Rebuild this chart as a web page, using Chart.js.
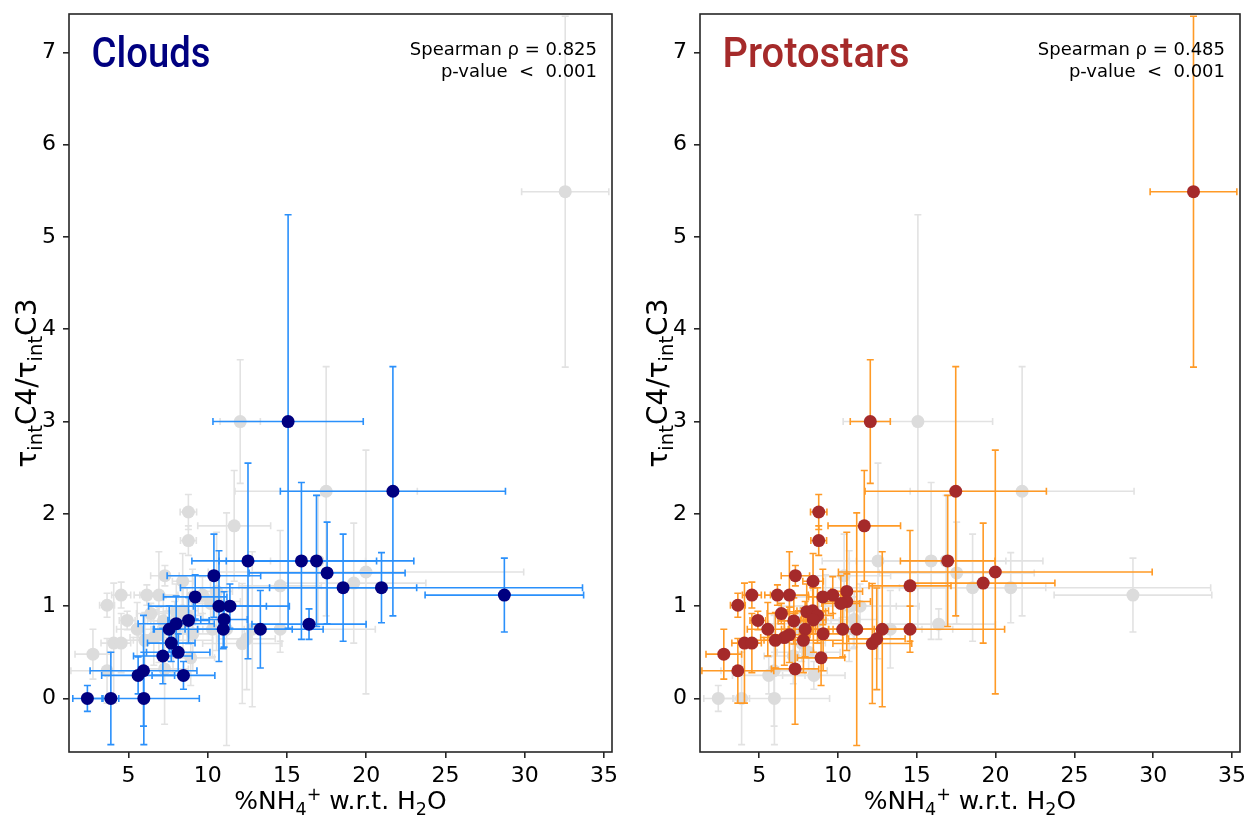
<!DOCTYPE html>
<html>
<head>
<meta charset="utf-8">
<script src="https://cdn.jsdelivr.net/npm/chart.js@4.4.1/dist/chart.umd.min.js"></script>
<style>
  html, body { margin: 0; padding: 0; background: #ffffff; }
  #wrap { position: relative; width: 1250px; height: 818px; overflow: hidden; }
  .panel { position: absolute; top: 0; width: 625px; height: 818px; }
</style>
</head>
<body>
<div id="wrap">
  <div class="panel" style="left:0px"><canvas id="cLeft" width="625" height="818"></canvas></div>
  <div class="panel" style="left:625px"><canvas id="cRight" width="625" height="818"></canvas></div>
</div>
<script>
// ---------------- DATA ----------------
const xTicks = [5, 10, 15, 20, 25, 30, 35];
const yTicks = [0, 1, 2, 3, 4, 5, 6, 7];

const cloudsX    = [15.07, 21.68, 12.54, 15.91, 16.86, 17.53, 18.54, 20.96, 28.71, 10.39, 9.21, 10.71, 11.40, 11.03, 10.98, 13.32, 16.39, 8.79, 8.01, 7.57, 7.70, 7.17, 8.14, 8.47, 5.95, 5.61, 2.41, 3.89, 5.97];
const cloudsY    = [3.00, 2.245, 1.49, 1.49, 1.49, 1.36, 1.20, 1.20, 1.12, 1.33, 1.10, 1.00, 1.00, 0.856, 0.75, 0.75, 0.805, 0.845, 0.81, 0.75, 0.60, 0.46, 0.50, 0.25, 0.30, 0.25, 0.00, 0.00, 0.00];
const cloudsXErr = [4.74, 7.10, 3.54, 4.74, 6.14, 4.92, 4.64, 12.68, 5.00, 2.95, 2.00, 4.44, 2.30, 1.47, 4.35, 3.96, 3.60, 1.30, 2.40, 1.00, 1.50, 1.85, 2.00, 1.98, 3.37, 2.30, 0.92, 0.50, 3.50];
const cloudsYErr = [2.24, 1.35, 1.06, 0.85, 0.71, 0.55, 0.58, 0.38, 0.40, 0.45, 0.24, 0.60, 0.24, 0.30, 0.21, 0.42, 0.165, 0.25, 0.30, 0.25, 0.20, 0.30, 0.20, 0.15, 0.60, 0.20, 0.14, 0.50, 0.50];

const protoX    = [12.05, 17.47, 11.67, 8.78, 8.78, 32.55, 16.96, 19.98, 19.21, 14.57, 14.57, 12.81, 11.19, 10.30, 12.18, 12.46, 10.56, 10.56, 10.18, 9.67, 9.04, 8.42, 7.30, 6.92, 6.16, 4.54, 3.65, 6.41, 4.92, 7.20, 5.55, 7.92, 8.02, 8.40, 8.70, 8.44, 9.06, 6.92, 6.60, 6.03, 7.81, 4.07, 4.54, 2.76, 8.93, 3.65, 7.28];
const protoY    = [3.00, 2.245, 1.87, 2.02, 1.71, 5.49, 1.49, 1.37, 1.25, 1.22, 0.75, 0.75, 0.75, 0.75, 0.595, 0.646, 1.16, 1.05, 1.03, 1.12, 1.10, 1.27, 1.33, 1.12, 1.12, 1.12, 1.01, 0.92, 0.845, 0.84, 0.75, 0.75, 0.94, 0.95, 0.90, 0.85, 0.70, 0.69, 0.66, 0.63, 0.63, 0.60, 0.60, 0.48, 0.44, 0.30, 0.32];
const protoXErr = [1.27, 5.75, 2.30, 0.52, 0.50, 2.75, 3.00, 9.95, 4.55, 2.60, 6.00, 1.50, 1.50, 2.00, 2.50, 1.80, 1.00, 1.50, 1.20, 0.60, 0.90, 0.65, 0.90, 1.20, 0.80, 0.60, 0.47, 0.90, 0.50, 1.00, 1.30, 1.50, 1.20, 1.00, 1.00, 0.80, 1.50, 1.30, 1.50, 2.00, 2.50, 0.80, 0.60, 1.13, 1.50, 2.28, 1.50];
const protoYErr = [0.67, 1.35, 0.60, 0.19, 0.16, 1.90, 0.71, 1.32, 0.65, 0.60, 0.25, 0.84, 1.26, 0.30, 0.65, 0.55, 0.64, 0.30, 0.30, 0.20, 0.30, 0.30, 0.11, 0.47, 0.11, 0.14, 0.13, 0.11, 0.10, 0.25, 0.29, 0.30, 0.30, 0.25, 0.30, 0.35, 0.40, 0.30, 0.30, 0.30, 0.35, 0.65, 0.32, 0.27, 0.30, 0.35, 0.60];

const panelTitles = ['Clouds', 'Protostars'];
const spearmanLines = [['Spearman ρ = 0.825', 'p-value  <  0.001'], ['Spearman ρ = 0.485', 'p-value  <  0.001']];

// ---------------- STYLE ----------------
const X_MIN = 1.25, X_MAX = 35.5, Y_MIN = -0.58, Y_MAX = 7.415;
const FONT = '"DejaVu Sans", sans-serif';
const AXIS_COLOR = '#262626';

function pts(xs, ys) { return xs.map((v, i) => ({ x: v, y: ys[i] })); }

const errorBarPlugin = {
  id: 'errbars',
  beforeDatasetDraw(chart, args) {
    const ds = chart.data.datasets[args.index];
    if (!ds.errX) return;
    const { ctx, chartArea, scales } = chart;
    const sx = scales.x, sy = scales.y;
    ctx.save();
    ctx.beginPath();
    ctx.rect(chartArea.left, chartArea.top, chartArea.right - chartArea.left, chartArea.bottom - chartArea.top);
    ctx.clip();
    ctx.strokeStyle = ds.errColor;
    ctx.lineWidth = 1.6;
    const cap = 3.5;
    ds.data.forEach((p, i) => {
      const px = sx.getPixelForValue(p.x), py = sy.getPixelForValue(p.y);
      const x0 = sx.getPixelForValue(p.x - ds.errX[i]), x1 = sx.getPixelForValue(p.x + ds.errX[i]);
      const y0 = sy.getPixelForValue(p.y - ds.errY[i]), y1 = sy.getPixelForValue(p.y + ds.errY[i]);
      ctx.beginPath();
      ctx.moveTo(x0, py); ctx.lineTo(x1, py);
      ctx.moveTo(px, y0); ctx.lineTo(px, y1);
      ctx.moveTo(x0, py - cap); ctx.lineTo(x0, py + cap);
      ctx.moveTo(x1, py - cap); ctx.lineTo(x1, py + cap);
      ctx.moveTo(px - cap, y0); ctx.lineTo(px + cap, y0);
      ctx.moveTo(px - cap, y1); ctx.lineTo(px + cap, y1);
      ctx.stroke();
    });
    ctx.restore();
  }
};

function drawRich(ctx, parts, x, y, base) {
  const small = base * 0.7;
  let total = 0;
  parts.forEach(([t, k]) => {
    ctx.font = (k === 'n' ? base : small) + 'px ' + FONT;
    total += ctx.measureText(t).width;
  });
  let cx = x - total / 2;
  parts.forEach(([t, k]) => {
    ctx.font = (k === 'n' ? base : small) + 'px ' + FONT;
    const dy = k === 'sub' ? base * 0.22 : (k === 'sup' ? -base * 0.36 : 0);
    ctx.fillText(t, cx, y + dy);
    cx += ctx.measureText(t).width;
  });
}

const decorPlugin = {
  id: 'decor',
  afterDraw(chart) {
    const o = chart.options.plugins.decor;
    const { ctx, chartArea } = chart;
    ctx.save();
    ctx.strokeStyle = AXIS_COLOR;
    ctx.lineWidth = 1.6;
    ctx.strokeRect(chartArea.left, chartArea.top, chartArea.right - chartArea.left, chartArea.bottom - chartArea.top);
    // panel title
    ctx.fillStyle = o.titleColor;
    ctx.font = '500 42px Roboto, sans-serif';
    ctx.textBaseline = 'alphabetic';
    ctx.textAlign = 'left';
    const w = ctx.measureText(o.title).width;
    ctx.save();
    ctx.translate(chartArea.left + 22.5, chartArea.top + 53);
    ctx.scale(o.titleWidth / w, 1);
    ctx.fillText(o.title, 0, 0);
    ctx.restore();
    // spearman text
    ctx.fillStyle = '#000';
    ctx.font = '18px ' + FONT;
    ctx.textAlign = 'right';
    ctx.fillText(o.stats[0], chartArea.right - 15, chartArea.top + 41);
    ctx.fillText(o.stats[1], chartArea.right - 15, chartArea.top + 63);
    // x axis title
    ctx.textAlign = 'left';
    ctx.fillStyle = '#000';
    const cxm = (chartArea.left + chartArea.right) / 2;
    drawRich(ctx, [['%NH', 'n'], ['4', 'sub'], ['+', 'sup'], [' w.r.t. H', 'n'], ['2', 'sub'], ['O', 'n']], cxm, 809, 25);
    // y axis title
    ctx.save();
    ctx.translate(o.yTitleX, (chartArea.top + chartArea.bottom) / 2);
    ctx.rotate(-Math.PI / 2);
    drawRich(ctx, [['τ', 'n'], ['int', 'sub'], ['C4/τ', 'n'], ['int', 'sub'], ['C3', 'n']], 0, 9, 28);
    ctx.restore();
    ctx.restore();
  }
};

function makeChart(canvasId, main, other, cfg) {
  const datasets = [
    {
      data: pts(main.x, main.y), errX: main.xe, errY: main.ye, errColor: cfg.errColor,
      backgroundColor: cfg.pointColor, borderWidth: 0, pointRadius: 6.5, pointHoverRadius: 6.5
    },
    {
      data: pts(other.x, other.y), errX: other.xe, errY: other.ye, errColor: '#e2e2e2',
      backgroundColor: '#dcdcdc', borderWidth: 0, pointRadius: 6.5, pointHoverRadius: 6.5
    }
  ];
  return new Chart(document.getElementById(canvasId), {
    type: 'scatter',
    data: { datasets },
    plugins: [errorBarPlugin, decorPlugin],
    options: {
      responsive: false,
      devicePixelRatio: 1,
      animation: false,
      layout: { padding: { left: 0, right: cfg.padRight, top: 14, bottom: 0 } },
      plugins: {
        legend: { display: false },
        tooltip: { enabled: false },
        decor: { title: cfg.title, titleColor: cfg.pointColor, titleWidth: cfg.titleWidth, stats: cfg.stats, yTitleX: cfg.yTitleX }
      },
      scales: {
        x: {
          type: 'linear', min: X_MIN, max: X_MAX,
          afterBuildTicks: s => { s.ticks = xTicks.map(v => ({ value: v })); },
          afterFit: s => { s.height = 66; s.paddingLeft = 0; s.paddingRight = 0; },
          ticks: { color: '#000', font: { family: FONT, size: 22 }, padding: 5, maxRotation: 0, autoSkip: false, callback: v => String(v) },
          grid: { drawOnChartArea: false, drawTicks: true, tickLength: 6, color: AXIS_COLOR, lineWidth: 1.6 },
          border: { display: false }
        },
        y: {
          type: 'linear', min: Y_MIN, max: Y_MAX,
          afterBuildTicks: s => { s.ticks = yTicks.map(v => ({ value: v })); },
          afterFit: s => { s.width = cfg.yWidth; s.paddingTop = 0; s.paddingBottom = 0; },
          ticks: { color: '#000', font: { family: FONT, size: 22 }, padding: 7, autoSkip: false, callback: v => String(v) },
          grid: { drawOnChartArea: false, drawTicks: true, tickLength: 6, color: AXIS_COLOR, lineWidth: 1.6 },
          border: { display: false }
        }
      }
    }
  });
}

const clouds = { x: cloudsX, y: cloudsY, xe: cloudsXErr, ye: cloudsYErr };
const protos = { x: protoX, y: protoY, xe: protoXErr, ye: protoYErr };

makeChart('cLeft', clouds, protos, {
  title: panelTitles[0], pointColor: '#000080', errColor: '#2a90fb', titleWidth: 119,
  stats: spearmanLines[0], yWidth: 69, padRight: 13, yTitleX: 27
});
makeChart('cRight', protos, clouds, {
  title: panelTitles[1], pointColor: '#a52a2a', errColor: '#ff9a26', titleWidth: 187,
  stats: spearmanLines[1], yWidth: 75, padRight: 10, yTitleX: 33
});
</script>
</body>
</html>
